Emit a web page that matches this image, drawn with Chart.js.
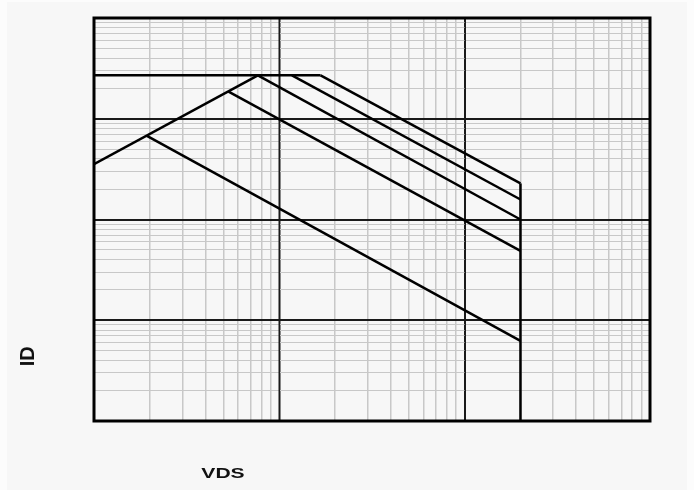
<!DOCTYPE html>
<html>
<head>
<meta charset="utf-8">
<script src="https://cdn.jsdelivr.net/npm/chart.js@4.4.0/dist/chart.umd.min.js"></script>
<style>
  html, body { margin: 0; padding: 0; background: #fcfcfc; }
  .chart-container { position: absolute; left: 7px; top: 2px; width: 680px; height: 488px; background: #f7f7f7; }
</style>
</head>
<body>
<div class="chart-container"><canvas id="soa"></canvas></div>
<script>
// axis decades (log-log grid, no tick labels shown)
const vdsDecades = [0.1, 1, 10, 100];
const idDecades = [0.01, 0.1, 1, 10, 100];
const minorSteps = [2, 3, 4, 5, 6, 7, 8, 9];

// limit lines
const currentLimitVds = [0.1, 1.67];
const currentLimitId = [27, 27];
const rdsOnVds = [0.1, 0.766];
const rdsOnId = [3.54, 27];
const powerStartVds = [1.67, 1.17, 0.766, 0.532, 0.193];
const powerStartId = [27, 27, 27, 18.6, 6.75];
const powerEndVds = [20, 20, 20, 20, 20];
const powerEndId = [2.28, 1.58, 1.0, 0.488, 0.0625];
const vdssVds = [20, 20];
const vdssId = [0.01, 2.28];

function logTicks(decades) {
  const ticks = [];
  decades.forEach((d, i) => {
    ticks.push({ value: d, major: true });
    if (i < decades.length - 1) {
      minorSteps.forEach(s => ticks.push({ value: +(d * s).toPrecision(6), major: false }));
    }
  });
  return ticks;
}

function toPoints(xs, ys) {
  return xs.map((x, i) => ({ x: x, y: ys[i] }));
}

function limitLine(points) {
  return {
    data: points,
    showLine: true,
    borderColor: '#000',
    borderWidth: 2.5,
    pointRadius: 0,
    fill: false,
  };
}

const datasets = [
  limitLine(toPoints(currentLimitVds, currentLimitId)),
  limitLine(toPoints(rdsOnVds, rdsOnId)),
  limitLine(toPoints(vdssVds, vdssId)),
];
powerStartVds.forEach((v, i) => {
  datasets.push(limitLine([
    { x: v, y: powerStartId[i] },
    { x: powerEndVds[i], y: powerEndId[i] },
  ]));
});

// vertical decade lines sit on top of the light horizontal grid
const majorXPlugin = {
  id: 'majorX',
  beforeDatasetsDraw(chart) {
    const { ctx, chartArea: a, scales } = chart;
    ctx.save();
    ctx.strokeStyle = '#1a1a1a';
    ctx.lineWidth = 1.5;
    vdsDecades.forEach(v => {
      const px = Math.round(scales.x.getPixelForValue(v)) + 0.25;
      ctx.beginPath();
      ctx.moveTo(px, a.top);
      ctx.lineTo(px, a.bottom);
      ctx.stroke();
    });
    ctx.restore();
  }
};

const framePlugin = {
  id: 'frame',
  afterDatasetsDraw(chart) {
    const { ctx, chartArea: a } = chart;
    ctx.save();
    ctx.strokeStyle = '#000';
    ctx.lineWidth = 3;
    ctx.strokeRect(a.left, a.top, a.right - a.left, a.bottom - a.top);
    ctx.restore();
  }
};

const axisTitlePlugin = {
  id: 'axisTitles',
  afterDraw(chart) {
    const { ctx, chartArea: a } = chart;
    ctx.save();
    ctx.fillStyle = '#111';
    ctx.textAlign = 'center';
    ctx.textBaseline = 'alphabetic';

    ctx.save();
    ctx.translate(a.left + 0.232 * (a.right - a.left), a.bottom + 57.3);
    ctx.scale(1.36, 1);
    ctx.font = 'bold 15.5px "Liberation Sans", Arial, sans-serif';
    ctx.fillText('VDS', 0, 0);
    ctx.restore();

    ctx.translate(a.left - 59.7, a.top + 338.3);
    ctx.rotate(-Math.PI / 2);
    ctx.font = 'bold 20px "Liberation Sans", Arial, sans-serif';
    ctx.fillText('ID', 0, 0);
    ctx.restore();
  }
};

const gridColor = (c) => (c.tick && c.tick.major ? '#1a1a1a' : '#c8c8c8');

new Chart(document.getElementById('soa'), {
  type: 'scatter',
  data: { datasets: datasets },
  options: {
    responsive: true,
    maintainAspectRatio: false,
    animation: false,
    layout: { padding: { left: 87, top: 16, right: 37, bottom: 69 } },
    plugins: {
      legend: { display: false },
      tooltip: { enabled: false },
    },
    scales: {
      x: {
        type: 'logarithmic',
        min: vdsDecades[0],
        max: vdsDecades[vdsDecades.length - 1],
        afterBuildTicks: (scale) => { scale.ticks = logTicks(vdsDecades); },
        ticks: { display: false, autoSkip: false },
        border: { display: false },
        grid: {
          drawTicks: false,
          tickLength: 0,
          color: gridColor,
          lineWidth: 1.5,
        },
      },
      y: {
        type: 'logarithmic',
        min: idDecades[0],
        max: idDecades[idDecades.length - 1],
        afterBuildTicks: (scale) => { scale.ticks = logTicks(idDecades); },
        ticks: { display: false, autoSkip: false },
        border: { display: false },
        grid: {
          drawTicks: false,
          tickLength: 0,
          color: gridColor,
          lineWidth: (c) => (c.tick && c.tick.major ? 2 : 1),
        },
      },
    },
  },
  plugins: [majorXPlugin, framePlugin, axisTitlePlugin],
});
</script>
</body>
</html>
